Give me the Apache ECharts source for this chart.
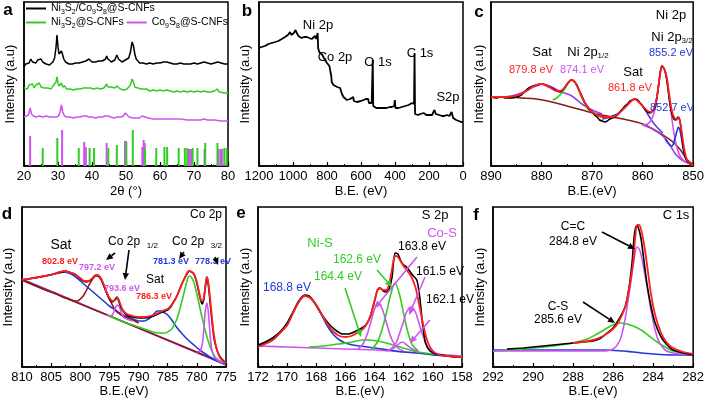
<!DOCTYPE html>
<html><head><meta charset="utf-8">
<script src="https://cdn.jsdelivr.net/npm/echarts@6/dist/echarts.min.js"></script>
<style>html,body{margin:0;padding:0;background:#fff}#c{width:707px;height:404px}</style>
</head><body><div id="c"></div>
<script>
// ---------- Panel a: XRD (2θ, intensity a.u.) ----------
const aBlack = [[20,99],[20.5,102],[21,104],[21.5,103],[22,107],[22.5,104],[23,105],[23.5,103],[24,106],[24.5,105],[25,107],[25.5,104],[26,105],[26.5,102],[27,103],[27.5,101],[28,103],[28.5,104],[29,108],[29.4,118],[29.7,131],[30,119],[30.3,112],[30.6,111],[31,115],[31.3,112],[31.7,107],[32.2,104],[32.7,103],[33.2,102],[33.7,101],[34.2,102],[34.7,100],[35.2,103],[35.7,102],[36.2,103],[36.7,102],[37.2,104],[37.7,103],[38.2,105],[38.7,104],[39.1,107],[39.5,105],[40,104],[40.5,103],[41,104],[41.5,103],[42,105],[42.5,104],[43,105],[43.5,106],[44,107],[44.3,110],[44.7,107],[45.2,105],[45.7,104],[46.2,105],[46.7,106],[47.3,111],[47.8,107],[48.3,105],[48.8,104],[49.3,105],[49.8,106],[50.3,105],[50.8,108],[51.3,114],[51.8,124],[52.2,120],[52.6,112],[53,107],[53.5,105],[54,103],[54.5,104],[55,103],[56,102],[57,103],[58,102],[59,103],[60,103],[61,104],[61.5,106],[62,104],[63,103],[64,102],[65,102],[66,103],[67,102],[68,102],[69,102],[70,103],[71,102],[72,103],[73,104],[74,103],[75,102],[76,103],[77,104],[78,103],[79,102],[80,102]];
const aGreen = [[20,78],[20.5,80],[21,77],[21.5,81],[22,79],[22.5,82],[23,78],[23.5,81],[24,80],[24.5,83],[25,79],[25.5,81],[26,78],[26.5,80],[27,78],[27.5,80],[28,77],[28.5,80],[29,81],[29.4,84],[29.7,89],[30,83],[30.3,80],[30.6,82],[31,83],[31.4,79],[32,80],[32.5,77],[33,79],[33.5,77],[34,79],[34.5,76],[35,78],[35.5,77],[36,79],[36.5,77],[37,79],[37.5,78],[38,80],[38.5,78],[39,80],[39.5,78],[40,79],[40.5,77],[41,79],[41.5,78],[42,79],[42.5,77],[43,79],[43.5,78],[44,80],[44.3,82],[44.7,79],[45.2,77],[45.7,79],[46.2,77],[46.7,78],[47.3,80],[47.8,78],[48.3,77],[48.8,78],[49.3,76],[49.8,78],[50.3,77],[50.8,78],[51.3,81],[51.8,87],[52.2,84],[52.6,79],[53,77],[53.5,78],[54,76],[54.5,77],[55,76],[56,77],[57,75],[58,76],[59,75],[60,76],[61,75],[62,76],[63,75],[64,74],[65,75],[66,74],[67,75],[68,74],[69,75],[70,74],[71,75],[72,74],[73,75],[74,74],[75,74],[76,75],[76.8,77],[77.5,74],[78,74],[79,73],[80,73]];
const aMagenta = [[20,49],[20.7,50],[21.3,51],[21.8,58],[22.2,52],[22.8,50],[23.5,49],[24.5,50],[25.5,49],[26.5,50],[27.5,49],[28,51],[28.6,49],[29.5,49],[30.2,50],[30.6,54],[31,61],[31.4,54],[31.9,50],[32.5,49],[33.5,49],[34.5,48],[35.5,49],[36.5,49],[37.3,50],[37.8,52],[38.4,50],[39,49],[40,49],[41,48],[42,49],[43,49],[43.8,50],[44.3,52],[44.8,50],[45.5,49],[46.5,48],[47.5,49],[48.5,49],[49.2,50],[49.8,53],[50.3,51],[50.9,49],[52,48],[53,48],[54,48],[54.7,50],[55.2,52],[55.7,49],[56.5,48],[58,47],[60,47],[62,47],[64,47],[66,47],[68,46],[70,46],[72,46],[73,47],[74,46],[76,46],[78,45],[80,45]];
const aStickCo = [[21.8,30],[31.2,36],[37.7,24],[38.2,19],[44.3,23],[49.7,25],[50.1,24],[54.8,19],[55.2,26],[55.5,23],[68.4,17],[68.8,17],[69.3,17],[73.1,17],[77.2,17],[77.8,17],[78.2,17]];
const aStickNi = [[25.5,18],[29.8,28],[36.1,18],[39.3,18],[40.6,18],[44.8,18],[47.3,21],[50.0,25],[52.0,36],[55.6,18],[58.9,18],[61.3,19],[62.1,19],[65.5,18],[67.3,18],[68.0,18],[69.6,18],[71.0,18],[73.3,23],[76.9,23],[78.9,18],[79.6,18]];
const aNames = ['Ni3S2/Co9S8@S-CNFs','Ni3S2@S-CNFs','Co9S8@S-CNFs'];

// ---------- Panel b: survey ----------
const bSurvey = [[1200,118],[1185,119],[1165,120],[1145,122],[1125,123],[1105,124],[1086,125],[1066,127],[1047,129],[1030,131],[1017,134],[1010,131],[1004,132],[995,133],[985,136],[978,133],[968,130],[958,129],[949,128],[935,129],[919,129],[905,128],[890,127],[880,129],[870,130],[863,127],[858,126],[855,133],[852,118],[846,114],[836,113],[827,111],[818,108],[811,106],[800,103],[791,101],[786,100],[782,99],[779,101],[775,90],[772,84],[762,81],[752,79],[740,79],[723,78],[716,77],[712,72],[708,71],[703,69],[693,67],[683,66],[672,67],[664,67],[654,68],[646,69],[642,65],[635,64],[625,64],[615,64],[600,65],[585,66],[572,67],[565,68],[558,67],[553,63],[545,63],[537,63],[533,65],[531,106],[528,60],[524,58],[510,58],[490,58],[470,58],[450,58],[430,59],[418,59],[405,60],[401,66],[397,58],[380,58],[360,59],[340,60],[320,61],[310,63],[300,63],[292,61],[288,62],[285,113],[282,52],[279,51],[265,51],[250,52],[241,52],[232,53],[229,55],[226,52],[215,51],[200,51],[182,51],[172,52],[168,56],[164,57],[160,52],[152,51],[140,51],[123,50],[110,50],[104,52],[95,51],[80,50],[74,49],[67,54],[62,55],[58,48],[50,46],[40,46],[25,45],[10,44],[0,44]];

// ---------- Panel c: Ni 2p ----------
const cRaw = [[890,69],[889,68],[888,69],[887,68],[886,68],[885,69],[884,71],[883.2,75],[882.5,78],[881.7,80],[881,81],[880,82],[879.2,81],[878.5,79],[878,78],[877,75],[876.3,74],[875.5,78],[874.8,83],[874.2,86],[873.6,85],[873,81],[872.5,75],[872,70],[871.5,64],[871,60],[870.5,56],[870,54],[869.5,51],[869,49],[868.5,46],[868,45],[867.5,44],[867,45],[866.5,47],[866,48],[865.5,49],[865,51],[864.5,54],[864,57],[863.5,60],[863,62],[862.5,65],[862,66],[861.5,67],[861,66],[860.5,63],[860,60],[859.5,56],[859,54],[858.5,53],[858,55],[857.5,59],[857,74],[856.6,90],[856.2,100],[855.8,98],[855.4,92],[855,78],[854.6,62],[854.2,52],[853.8,47],[853.4,46],[853,49],[852.7,47],[852.4,38],[852,20],[851.6,10],[851.2,5],[850.6,2],[850,1]];
const cFit = [[890,69],[887,69],[884.5,71],[883,75],[881.5,80],[880,82],[878.5,79],[877,75],[876.3,75],[875.5,78],[874.8,83],[874.1,86],[873.4,84],[872.6,76],[871.8,67],[871,60],[870,54],[869,51],[868,49],[867,49],[866,49],[865,51],[864,56],[863,61],[862,66],[861.6,67],[861,65],[860,60],[859,55],[858.3,54],[857.7,58],[857.2,68],[856.7,86],[856.2,100],[855.7,97],[855.2,88],[854.7,70],[854.2,55],[853.7,48],[853.2,47],[852.9,48],[852.5,42],[852.1,28],[851.7,15],[851.2,6],[850.6,2],[850,1]];
const cBg1 = [[890,69],[887,69],[884,68],[881,67],[878,64],[875,60],[872,56],[869,52],[866,49],[863,46],[860,42],[858,37],[856,31],[854,24],[852.5,16],[851.3,7],[850,1]];
const cBg2 = [[860,41],[858,37],[856,30],[854.5,20],[853.5,12],[852.5,7],[851.5,4],[850,1]];
const cSat1 = [[890,69],[888,69],[886,70],[884,73],[882,78],[880.5,81],[880,82],[879,81],[878,79],[876,74],[874,70],[872,62],[870,56],[868,52]];
const cP12 = [[877.8,66],[877,68],[876,73],[875.3,78],[874.7,83],[874.1,86],[873.5,84],[872.8,78],[872.2,70],[871.5,63],[870.8,57],[870,54],[869,52]];
const cSat2 = [[868,47],[867,48],[866,50],[865,52],[864,56],[863,61],[862.3,65],[861.6,67],[861,65],[860,60],[859,52],[858,44],[857,38],[856,33]];
const cP32 = [[860,41],[859,42],[858.3,46],[857.7,54],[857.2,68],[856.7,86],[856.2,100],[855.7,96],[855.2,86],[854.7,68],[854.2,47],[853.7,30],[853.2,18],[852.6,10],[851.8,5],[850.5,2]];
const cP527 = [[855.5,27],[854.8,22],[854.2,20],[853.7,26],[853.2,35],[852.9,39],[852.5,33],[852.1,21],[851.7,11],[851.2,5],[850.5,2]];

// ---------- Panel d: Co 2p ----------
const dRaw = [[810,87],[809,88],[808,89],[807,90],[806,91],[805.2,92],[804.5,93],[803.7,94],[803,95],[802.5,96],[802,95],[801.5,94],[801,93],[800.5,91],[800,88],[799.5,86],[799,85],[798.5,86],[798,88],[797.6,91],[797.2,92],[796.8,91],[796.4,88],[796,82],[795.5,74],[795,68],[794.5,65],[794.1,67],[793.7,70],[793.3,64],[792.9,58],[792.4,54],[791.8,51],[791,50],[790,49],[789,49],[788,50],[787,52],[786.3,54],[785.5,56],[785,57],[784.5,60],[784,65],[783.5,70],[783,77],[782.5,84],[782,90],[781.6,94],[781.3,96],[780.9,95],[780.5,93],[780.2,88],[780,84],[779.7,76],[779.4,68],[779.1,63],[778.8,68],[778.5,82],[778.3,89],[778.1,85],[777.9,75],[777.6,57],[777.3,40],[777,27],[776.6,18],[776.2,12],[775.7,8],[775,4]];
const dFit = [[810,87],[808,89],[806,91],[804.5,93],[803.5,95],[802.8,96],[802,95],[801,93],[800,89],[799.3,86],[798.6,86],[797.9,89],[797.2,92],[796.6,90],[796,83],[795.5,75],[795,69],[794.5,66],[794,67],[793.6,69],[793.2,64],[792.7,57],[792,53],[791,51],[790,50],[789,50],[788,51],[787,53],[786.3,55],[785.5,57],[785,58],[784.5,61],[784,65],[783.5,70],[783,77],[782.5,84],[782,90],[781.6,95],[781.3,96],[780.9,95],[780.5,93],[780.1,87],[779.7,77],[779.3,67],[779,66],[778.7,74],[778.4,88],[778.3,90],[778.1,87],[777.8,73],[777.5,55],[777.2,38],[776.9,26],[776.5,16],[776,9],[775.5,6],[775,4]];
const dBgA = [[810,88],[775,2]];
const dBgB = [[810,87],[775,3]];
const dSat = [[810,87],[808,89],[806,91],[804.5,93],[803.5,95],[802.8,95],[802,94],[801,91],[800,86],[799,81],[798,76],[797,71],[796,66],[795,61],[794,57],[793,53],[792,50],[791,48],[790,46],[789,46],[788.3,48],[787.5,52],[786.8,56],[786.2,56],[785.5,54],[785,52],[784.3,47],[783.5,40],[782.5,33],[781.5,27],[780.5,22],[779.5,17],[778.5,13],[777.5,9],[776.5,6],[775,3]];
const d7972 = [[810,87],[806,77],[804,73],[803,70],[802,68],[801,66],[800.5,66],[800,68],[799.5,71],[799,76],[798.5,82],[798,87],[797.6,90],[797.2,91],[796.8,90],[796.4,87],[796,82],[795.5,75],[795,68],[794.5,62],[794,57],[793.5,54],[793,52],[792,49],[791,47],[790,44]];
const d7936 = [[795.5,52],[795,51],[794.5,52],[794.2,56],[793.9,60],[793.6,62],[793.3,60],[793,55],[792.6,50],[792,48],[791,46]];
const d7813 = [[795,51],[793,46],[791,42],[789,38],[787.5,35],[786.5,34],[785.5,34],[784.5,37],[784,41],[783.5,47],[783,56],[782.5,67],[782,79],[781.6,88],[781.3,91],[781,90],[780.6,86],[780.2,78],[779.8,68],[779.4,57],[779,47],[778.5,35],[778,25],[777.5,17],[777,11],[776.5,8],[776,6],[775,4]];
const d7783 = [[780,15],[779.5,16],[779.1,22],[778.8,38],[778.55,56],[778.3,64],[778.05,56],[777.8,38],[777.5,20],[777.1,11],[776.5,7],[775.5,4]];

// ---------- Panel e: S 2p ----------
const eRaw = [[172,22],[171.5,25],[171,29],[170.5,35],[170,44],[169.6,55],[169.2,66],[168.8,72],[168.5,71],[168.2,66],[167.9,59],[167.6,52],[167.3,46],[167,41],[166.6,36],[166.2,33],[165.8,33],[165.4,35],[165,38],[164.6,42],[164.3,50],[164,66],[163.8,77],[163.6,79],[163.4,76],[163.2,75],[163,78],[162.8,90],[162.6,114],[162.4,113],[162.2,106],[162,102],[161.8,100],[161.4,92],[161.1,87],[160.9,70],[160.7,42],[160.5,24],[160.2,16],[159.8,13],[159.4,12],[159,11],[158.5,10],[158,10]];
const eFit = [[172,20],[171.5,23],[171,27],[170.5,34],[170,42],[169.6,54],[169.2,65],[168.8,71],[168.4,69],[168,62],[167.6,52],[167.2,42],[166.8,35],[166.4,31],[166,30],[165.6,31],[165.2,34],[164.8,38],[164.5,44],[164.2,55],[163.9,72],[163.7,79],[163.4,77],[163.2,77],[163,83],[162.8,98],[162.6,111],[162.4,110],[162.1,103],[161.8,97],[161.5,91],[161.2,80],[161,67],[160.7,45],[160.4,27],[160,16],[159.5,12],[159,11],[158,10]];
const eS6 = [[172,21],[171.5,24],[171,27],[170.5,34],[170,42],[169.6,54],[169.2,65],[168.8,71],[168.4,69],[168,62],[167.6,51],[167.2,40],[166.8,32],[166.4,27],[166,24],[165.5,22],[165,21],[164,19],[163,17],[162,15],[161,14],[160,12],[159,11],[158,10]];
const eBg = [[172,21],[170,20],[168,19],[166,18],[164,17],[162,15],[160,13],[158,11]];
const eNi1644 = [[168.5,20],[167.5,21],[166.5,23],[165.5,25],[164.8,27],[164.4,27],[163.8,26],[163.2,24],[162.5,21],[161.8,18],[161,15],[160,13]];
const eNi1626 = [[164.2,18],[163.8,25],[163.5,37],[163.2,53],[162.9,72],[162.6,84],[162.3,73],[162,53],[161.7,34],[161.4,22],[161,16]];
const eCo1638 = [[165.2,17],[164.8,23],[164.5,33],[164.2,48],[164,58],[163.8,64],[163.6,62],[163.4,55],[163.1,40],[162.8,27],[162.4,19],[162,16]];
const eCo1615 = [[163,17],[162.6,22],[162.3,33],[162,46],[161.8,55],[161.5,60],[161.2,55],[161,46],[160.7,32],[160.4,21],[160,15]];
const eCo1621 = [[163.2,16],[162.8,18],[162.5,21],[162.1,25],[161.7,21],[161.4,18],[161,15]];

// ---------- Panel f: C 1s ----------
const fRaw = [[291.3,18],[290.5,19],[290,20],[289,22],[288,24],[287.5,25],[287,26],[286.6,29],[286.3,34],[286,39],[285.7,48],[285.4,60],[285.2,80],[285.05,105],[284.95,130],[284.85,141],[284.75,140],[284.6,128],[284.45,105],[284.3,82],[284.1,60],[283.9,44],[283.6,30],[283.3,22],[283,17],[282.5,14],[282,12]];
const fFit = [[288,24],[287,27],[286.5,31],[286,38],[285.7,46],[285.4,60],[285.2,78],[285,104],[284.9,128],[284.8,142],[284.7,142],[284.55,133],[284.4,116],[284.25,94],[284.1,72],[283.9,52],[283.6,34],[283.3,24],[283,19],[282.5,15],[282,13]];
const fCS = [[292,16],[291,17],[290,19],[289,21],[288,24],[287.3,28],[286.8,33],[286.3,39],[285.9,43],[285.6,44],[285.3,43],[285,41],[284.6,37],[284.2,31],[283.8,25],[283.4,20],[283,16],[282.5,14],[282,13]];
const fCC = [[292,16],[290,16],[288,16],[286.5,16],[286,18],[285.7,25],[285.5,38],[285.3,60],[285.1,87],[284.95,108],[284.8,120],[284.65,116],[284.5,102],[284.3,80],[284.1,56],[283.9,37],[283.7,25],[283.4,17],[283,14],[282.5,13],[282,13]];
const fBg = [[292,17],[290,17],[288,17],[286.5,17],[285.5,16],[285,15],[284,13],[283,12],[282,12]];

// ---------- build ----------
const FONT = '"Liberation Sans", Arial, sans-serif';
const K='#000', RED='#ff1e1e', GRN='#33cc22', MAG='#cc55ee', BLU='#2238d8', BRN='#8a1a1a', VIO='#9a3fe0', IND='#5a3fd0';
const grids = [
  {left:24, top:2, width:204, height:164},
  {left:259, top:2, width:204, height:164},
  {left:491, top:2, width:204, height:164},
  {left:22, top:207, width:204, height:160},
  {left:258, top:207, width:204, height:160},
  {left:493, top:207, width:204, height:160}
].map(g => Object.assign(g, {show:true, borderColor:'#000', borderWidth:1.5, backgroundColor:'transparent'}));

function xa(gi, min, max, interval, minor, name, inverse){
  return {type:'value', gridIndex:gi, min, max, interval, inverse:!!inverse, name, nameLocation:'middle', nameGap: gi<3?19:18,
    nameTextStyle:{fontSize:13, color:K, fontFamily:FONT},
    axisLine:{show:true, onZero:false, lineStyle:{color:K, width:1.5}},
    axisTick:{show:true, inside:true, length:4, lineStyle:{color:K, width:1.2}},
    minorTick:{show:true, splitNumber:minor, length:2, lineStyle:{color:K, width:1}},
    axisLabel:{color:K, fontSize:13, fontFamily:FONT, margin:4, showMinLabel:true, showMaxLabel:true, hideOverlap:false, formatter: v => String(v)},
    splitLine:{show:false}, minorSplitLine:{show:false}};
}
function ya(gi, max, gap){
  return {type:'value', gridIndex:gi, min:0, max, name:'Intensity (a.u)', nameLocation:'middle', nameGap:gap, nameRotate:90,
    nameTextStyle:{fontSize:13, color:K, fontFamily:FONT},
    axisLine:{show:true, onZero:false, lineStyle:{color:K, width:1.5}},
    axisTick:{show:false}, axisLabel:{show:false}, splitLine:{show:false}};
}
function ln(name, data, color, gi, width, smooth, z){
  return {type:'line', name, data, xAxisIndex:gi, yAxisIndex:gi, symbol:'none', showSymbol:false,
    smooth: smooth===undefined?0.35:smooth, lineStyle:{color, width:width||1.6}, itemStyle:{color}, z:z||2, animation:false, silent:true};
}
function bar(name, data, color){
  return {type:'bar', name, data, xAxisIndex:0, yAxisIndex:0, barWidth:2, barGap:'-100%', itemStyle:{color}, animation:false, silent:true};
}
const series = [
  ln(aNames[0], aBlack, K, 0, 1.5, false),
  ln(aNames[1], aGreen, GRN, 0, 1.5, false),
  ln(aNames[2], aMagenta, MAG, 0, 1.5, false),
  bar('ref-Co9S8', aStickCo, MAG),
  bar('ref-Ni3S2', aStickNi, GRN),
  ln('survey', bSurvey, K, 1, 1.8, false),
  ln('c bg1', cBg1, BRN, 2, 1.6),
  ln('c bg2', cBg2, VIO, 2, 1.6),
  ln('c sat1', cSat1, VIO, 2, 1.6),
  ln('c 2p1/2', cP12, GRN, 2, 1.6),
  ln('c sat2', cSat2, IND, 2, 1.6),
  ln('c 2p3/2', cP32, MAG, 2, 1.6),
  ln('c 852.7', cP527, BLU, 2, 1.6),
  ln('c raw', cRaw, K, 2, 1.6, 0.2, 3),
  ln('c fit', cFit, RED, 2, 1.8, 0.3, 4),
  ln('d bgA', dBgA, VIO, 3, 1.6, false),
  ln('d bgB', dBgB, BRN, 3, 1.6, false),
  ln('d sat', dSat, BLU, 3, 1.6),
  ln('d 797.2', d7972, BRN, 3, 1.6),
  ln('d 793.6', d7936, MAG, 3, 1.6),
  ln('d 781.3', d7813, GRN, 3, 1.6),
  ln('d 778.3', d7783, MAG, 3, 1.6),
  ln('d raw', dRaw, K, 3, 1.6, 0.2, 3),
  ln('d fit', dFit, RED, 3, 1.8, 0.3, 4),
  ln('e bg', eBg, MAG, 4, 1.6),
  ln('e 168.8', eS6, BLU, 4, 1.6),
  ln('e 164.4', eNi1644, GRN, 4, 1.6),
  ln('e 162.6', eNi1626, GRN, 4, 1.6),
  ln('e 163.8', eCo1638, MAG, 4, 1.6),
  ln('e 161.5', eCo1615, MAG, 4, 1.6),
  ln('e 162.1', eCo1621, MAG, 4, 1.6),
  ln('e raw', eRaw, K, 4, 1.6, 0.2, 3),
  ln('e fit', eFit, RED, 4, 1.8, 0.3, 4),
  ln('f bg', fBg, BLU, 5, 1.6),
  ln('f C-S', fCS, GRN, 5, 1.6),
  ln('f C=C', fCC, MAG, 5, 1.6),
  ln('f raw', fRaw, K, 5, 1.6, 0.2, 3),
  ln('f fit', fFit, RED, 5, 1.8, 0.3, 4)
];

const subFmt = n => n.replace(/(\d)/g, '{s|$1}');
const legText = {fontSize:10.5, color:K, fontFamily:FONT, rich:{s:{fontSize:7, fontFamily:FONT, color:K, padding:[7,0,0,0]}}};
const legend = [
  {data:[aNames[0]], left:26, top:3, padding:0, itemWidth:20, itemHeight:2, icon:'rect', itemGap:3, selectedMode:false, formatter:subFmt, textStyle:legText},
  {data:[aNames[1], aNames[2]], left:26, top:17, padding:0, itemWidth:20, itemHeight:2, icon:'rect', itemGap:3, selectedMode:false, formatter:subFmt, textStyle:legText}
];

function T(x, y, text, color, size, weight, subSize){
  const st = {text, fill:color, fontSize:size, fontFamily:FONT, fontWeight:weight||'normal',
    align:'center', verticalAlign:'middle', textAlign:'center', textVerticalAlign:'middle'};
  if (subSize) st.rich = {s:{fontSize:subSize, fontFamily:FONT, fill:color, padding:[Math.round(size*0.6),0,0,0]}};
  return {type:'text', x, y, z:100, silent:true, style:st};
}
function arrow(x1, y1, x2, y2, color){
  const a = Math.atan2(y2-y1, x2-x1), L = 7, W = 3.2;
  const bx = x2 - L*Math.cos(a), by = y2 - L*Math.sin(a);
  return [
    {type:'line', z:100, silent:true, shape:{x1, y1, x2:bx, y2:by}, style:{stroke:color, lineWidth:1.6}},
    {type:'polygon', z:100, silent:true, shape:{points:[[x2,y2],[bx+W*Math.sin(a), by-W*Math.cos(a)],[bx-W*Math.sin(a), by+W*Math.cos(a)]]}, style:{fill:color}}
  ];
}
const graphic = [
  T(8,10,'a',K,17,'bold'), T(247,11,'b',K,17,'bold'), T(479,12,'c',K,17,'bold'),
  T(7,214,'d',K,17,'bold'), T(241,213,'e',K,17,'bold'), T(476,215,'f',K,17,'bold'),
  // b
  T(318,25,'Ni 2p',K,13), T(335,57,'Co 2p',K,13), T(378,62,'O 1s',K,13), T(420,53,'C 1s',K,13), T(448,97,'S2p',K,13),
  // c
  T(671,15,'Ni 2p',K,13), T(672,37,'Ni 2p{s|3/2}',K,13,'normal',8), T(671,53,'855.2 eV',BLU,11),
  T(542,52,'Sat',K,13), T(588,52,'Ni 2p{s|1/2}',K,13,'normal',8),
  T(531,70,'879.8 eV',RED,11), T(582,70,'874.1 eV',MAG,11),
  T(633,72,'Sat',K,13), T(630,88,'861.8 eV',RED,11), T(672,108,'852.7 eV',BLU,11),
  // d
  T(206,215,'Co 2p',K,12), T(61,245,'Sat',K,14),
  T(133,242,'Co 2p  {s|1/2}',K,12,'normal',8), T(197,242,'Co 2p  {s|3/2}',K,12,'normal',8),
  T(60,262,'802.8 eV',RED,9,'bold'), T(97,268,'797.2 eV',MAG,9,'bold'), T(122,289,'793.6 eV',MAG,9,'bold'),
  T(155,280,'Sat',K,12), T(154,297,'786.3 eV',RED,9,'bold'), T(171,262,'781.3 eV',BLU,9,'bold'), T(213,262,'778.3 eV',BLU,9,'bold'),
  ...arrow(115,253,106,260,K), ...arrow(129,250,125,280,K), ...arrow(184,252,179,259,K), ...arrow(215,257,218,265,K),
  // e
  T(435,215,'S 2p',K,13), T(442,233,'Co-S',MAG,13), T(320,243,'Ni-S',GRN,13),
  T(422,247,'163.8 eV',K,12), T(357,260,'162.6 eV',GRN,12), T(440,272,'161.5 eV',K,12),
  T(338,277,'164.4 eV',GRN,12), T(287,288,'168.8 eV',BLU,12), T(450,300,'162.1 eV',K,12),
  ...arrow(345,288,361,337,GRN), ...arrow(377,270,392,287,GRN),
  ...arrow(417,257,375,308,MAG), ...arrow(425,277,409,315,MAG), ...arrow(430,320,410,343,MAG),
  // f
  T(676,215,'C 1s',K,13), T(573,227,'C=C',K,12), T(573,242,'284.8 eV',K,12),
  T(558,307,'C-S',K,12), T(558,320,'285.6 eV',K,12),
  ...arrow(602,232,635,249,K), ...arrow(583,302,615,323,K)
];

const option = {
  animation:false, backgroundColor:'#fff',
  textStyle:{fontFamily:FONT},
  grid: grids,
  xAxis: [
    xa(0,20,80,10,2,'2θ (°)',false),
    xa(1,0,1200,200,2,'B.E. (eV)',true),
    xa(2,850,890,10,2,'B.E.(eV)',true),
    xa(3,775,810,5,2,'B.E.(eV)',true),
    xa(4,158,172,2,2,'B.E.(eV)',true),
    xa(5,282,292,2,2,'B.E.(eV)',true)
  ],
  yAxis: [ya(0,164,7), ya(1,164,7), ya(2,164,5), ya(3,160,7), ya(4,160,6), ya(5,160,6)],
  legend, series, graphic
};
const chart = echarts.init(document.getElementById('c'), null, {renderer:'canvas'});
chart.setOption(option);
</script></body></html>
